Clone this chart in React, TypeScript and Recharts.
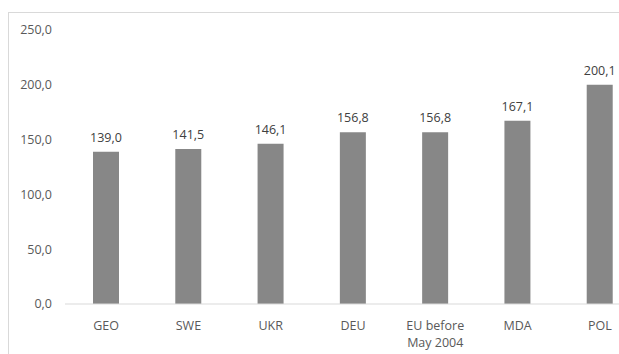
import { BarChart, Bar, XAxis, YAxis, LabelList } from 'recharts'

const categories = ['GEO', 'SWE', 'UKR', 'DEU', 'EU before\nMay 2004', 'MDA', 'POL']
const values = [139.0, 141.5, 146.1, 156.8, 156.8, 167.1, 200.1]
const yTicks = [0, 50, 100, 150, 200, 250]

const data = categories.map((name, i) => ({ name, value: values[i] }))

const fmt = (v: number) => v.toFixed(1).replace('.', ',')
const FONT = '"Open Sans", "Noto Sans", sans-serif'

function XTick({ x, y, payload }: any) {
  const lines = String(payload.value).split('\n')
  return (
    <text x={x} y={y} textAnchor="middle" fill="#595959" fontSize={12.5} fontFamily={FONT}>
      {lines.map((l, i) => (
        <tspan key={i} x={x} dy={i === 0 ? 18 : 17}>
          {l}
        </tspan>
      ))}
    </text>
  )
}

export default function App() {
  return (
    <div
      style={{
        position: 'absolute',
        left: 8,
        top: 12,
        width: 611,
        height: 342,
        overflow: 'hidden',
        borderLeft: '1px solid #d9d9d9',
        borderTop: '1px solid #d9d9d9',
        boxSizing: 'border-box',
        background: '#fff',
      }}
    >
      <div style={{ position: 'absolute', left: -1, top: -1 }}>
        <BarChart
          width={660}
          height={345}
          data={data}
          margin={{ top: 18, right: 27, bottom: 0, left: 0 }}
          barCategoryGap={0}
        >
          <YAxis
            width={57}
            domain={[0, 250]}
            ticks={yTicks}
            tickFormatter={fmt}
            axisLine={false}
            tickLine={false}
            tickSize={0}
            tickMargin={13}
            tick={{ fill: '#595959', fontSize: 12.5, fontFamily: FONT }}
          />
          <XAxis
            dataKey="name"
            height={53}
            interval={0}
            tickLine={false}
            axisLine={{ stroke: '#d9d9d9' }}
            tick={<XTick />}
          />
          <Bar dataKey="value" fill="#878787" barSize={26} isAnimationActive={false}>
            <LabelList
              dataKey="value"
              position="top"
              offset={10}
              formatter={(v: any) => fmt(Number(v))}
              style={{ fill: '#404040', fontSize: 12.5, fontFamily: FONT }}
            />
          </Bar>
        </BarChart>
      </div>
    </div>
  )
}
